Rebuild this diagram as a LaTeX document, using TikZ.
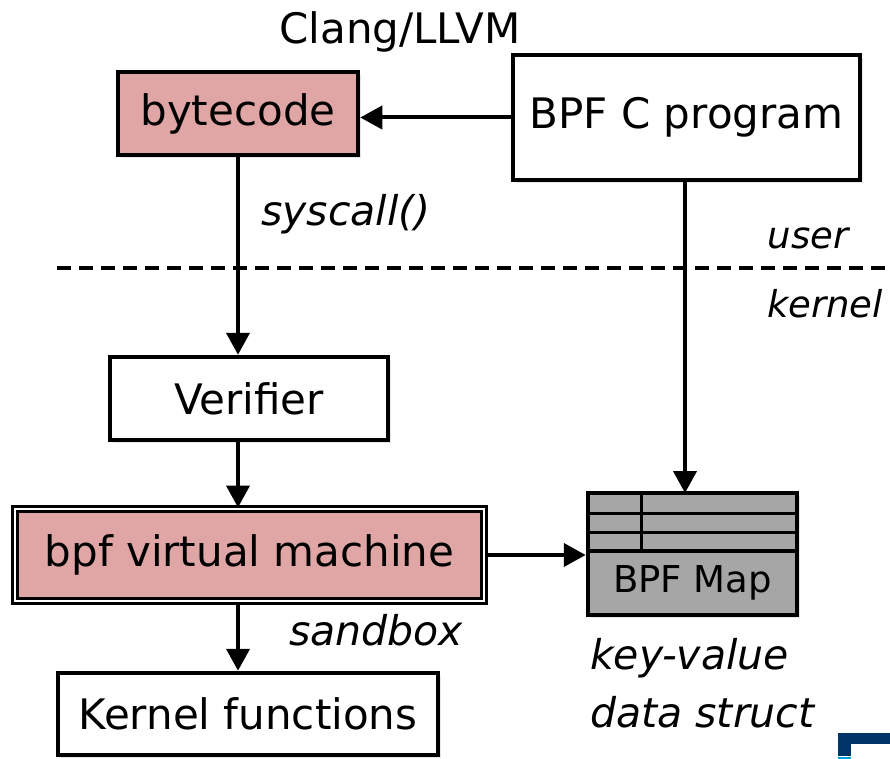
\documentclass[tikz,border=0pt]{standalone}
\usepackage{fontspec}
\setmainfont{DejaVu Sans}
\usetikzlibrary{arrows.meta,shadows}
\definecolor{pinkfill}{RGB}{224,165,165}
\definecolor{mapgray}{RGB}{166,166,166}
\definecolor{logodark}{RGB}{0,51,102}
\definecolor{logolight}{RGB}{0,160,220}
\begin{document}
\begin{tikzpicture}[x=1pt,y=-1pt,
  txt/.style={font=\fontsize{42}{50}\selectfont, inner sep=0pt},
  lbl/.style={font=\fontsize{41}{50}\selectfont\itshape, inner sep=0pt},
  smlbl/.style={font=\fontsize{37}{44}\selectfont\itshape, inner sep=0pt},
  boxshadow/.style={drop shadow={opacity=0.2, shadow xshift=3pt, shadow yshift=-3pt}},
  box/.style={txt, draw=black, line width=4.5pt, rectangle, boxshadow},
  arr/.style={line width=4pt, -{Triangle[length=22pt,width=23pt]}},
]
\useasboundingbox (0,0) rectangle (890,759);

\node[box, fill=pinkfill, minimum width=240pt, minimum height=83pt] (bc) at (238,113.5) {bytecode};
\node[box, fill=white, minimum width=347pt, minimum height=125pt] (prog) at (686.5,117.5) {BPF C program};
\node[box, fill=white, minimum width=278pt, minimum height=83pt] (ver) at (249,398.5) {Verifier};
\node[txt, rectangle, draw=black, line width=3pt, double=white, double distance=2pt, fill=pinkfill, boxshadow,
      minimum width=469pt, minimum height=92pt] (vm) at (249.5,555) {bpf virtual machine};
\node[box, fill=white, minimum width=380pt, minimum height=82pt] (kf) at (248,714) {Kernel functions};

% BPF Map
\node[draw=black, line width=4.5pt, fill=mapgray, rectangle, boxshadow, minimum width=209pt, minimum height=122pt, inner sep=0pt] (map) at (692.5,554) {};
\node[font=\fontsize{37}{44}\selectfont, inner sep=0pt] (maplbl) at (692.5,583) {BPF Map};
\coordinate (r1) at (588,513);
\coordinate (r2) at (588,532);
\coordinate (r3) at (588,551);
\coordinate (vc) at (641,493);
\draw[line width=3pt] (r1) -- (r1 -| map.east);
\draw[line width=3pt] (r2) -- (r2 -| map.east);
\draw[line width=3.5pt] (r3) -- (r3 -| map.east);
\draw[line width=3pt] (vc) -- (vc |- r3);

% labels
\node[font=\fontsize{42}{50}\selectfont, inner sep=0pt] (clang) at (400,32) {Clang/LLVM};
\node[lbl] (sys) at (346,214) {syscall()};
\node[smlbl] (user) at (808,238) {user};
\node[smlbl] (kern) at (825,304) {kernel};
\node[lbl] (sand) at (376,630) {sandbox};
\node[lbl, anchor=west] (kv) at (590,658) {key-value};
\node[lbl, anchor=west] (ds) at (590,712) {data struct};

% dashed separator
\coordinate (dl) at (57,268);
\coordinate (dr) at (890,268);
\draw[line width=4pt, dash pattern=on 14pt off 8pt] (dl) -- (dr);

% arrows
\draw[arr] (prog.west) -- (prog.west -| bc.east);
\draw[arr] (bc.south) -- (bc.south |- ver.north);
\draw[arr] (bc.south |- ver.south) -- (bc.south |- vm.north);
\draw[arr] (bc.south |- vm.south) -- (bc.south |- kf.north);
\draw[arr] (prog.south -| 685,0) -- (685,493);
\draw[arr] (vm.east) -- (vm.east -| map.west);

% logo fragment
\fill[logodark] (838,733) rectangle (890,744);
\fill[logodark] (838,744) rectangle (851,756);
\fill[logolight] (838,757) rectangle (851,759);
\end{tikzpicture}
\end{document}
